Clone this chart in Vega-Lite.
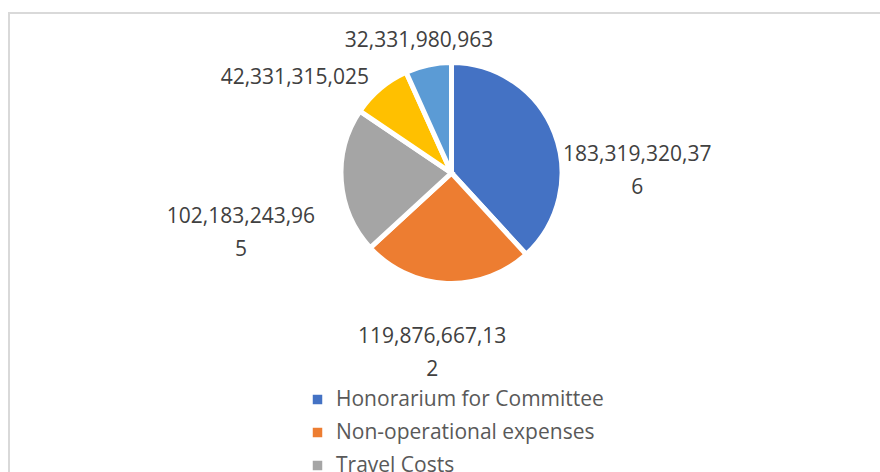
{
  "$schema": "https://vega.github.io/schema/vega-lite/v6.json",
  "width": 885,
  "height": 480,
  "autosize": {"type": "none"},
  "padding": {"left": 9, "top": 13, "right": -14, "bottom": -21},
  "background": "white",
  "view": {"stroke": "#D9D9D9", "strokeWidth": 2},
  "config": {"view": {"stroke": "#D9D9D9", "strokeWidth": 2}, "font": "Open Sans"},
  "data": {
    "values": [
      {"idx": 1, "category": "Honorarium for Committee", "value": 183319320376, "label": "183,319,320,37\n6"},
      {"idx": 2, "category": "Non-operational expenses", "value": 119876667132, "label": "119,876,667,13\n2"},
      {"idx": 3, "category": "Travel Costs", "value": 102183243965, "label": "102,183,243,96\n5"},
      {"idx": 4, "category": "Operational Costs", "value": 42331315025, "label": "42,331,315,025"},
      {"idx": 5, "category": "Other Expenses", "value": 32331980963, "label": "32,331,980,963"}
    ]
  },
  "encoding": {
    "theta": {"field": "value", "type": "quantitative", "stack": true},
    "order": {"field": "idx", "type": "quantitative"}
  },
  "layer": [
    {
      "mark": {"type": "arc", "outerRadius": 110.5, "stroke": "white", "strokeWidth": 5, "y": {"expr": "height/3"}},
      "encoding": {
        "color": {
          "field": "category",
          "type": "nominal",
          "scale": {
            "domain": ["Honorarium for Committee", "Non-operational expenses", "Travel Costs", "Operational Costs", "Other Expenses"],
            "range": ["#4472C4", "#ED7D31", "#A5A5A5", "#FFC000", "#5B9BD5"]
          },
          "legend": {
            "orient": "none",
            "legendX": 298,
            "legendY": 376,
            "title": null,
            "padding": 0,
            "symbolType": "square",
            "symbolSize": 90,
            "symbolStrokeWidth": 0,
            "labelFont": "Open Sans",
            "labelFontSize": 21,
            "labelColor": "#595959",
            "labelOffset": 8,
            "rowPadding": 11,
            "labelLimit": 500
          }
        }
      }
    },
    {
      "mark": {"type": "text", "radius": 150, "dx": 46, "dy": 42, "y": {"expr": "height/3"}, "fontSize": 21, "fill": "#404040", "align": "center", "baseline": "alphabetic", "lineBreak": "\n", "lineHeight": 33},
      "encoding": {"detail": {"field": "category", "type": "nominal"}, "text": {"condition": {"test": "datum.idx === 1", "field": "label", "type": "nominal"}, "value": ""}}
    },
    {
      "mark": {"type": "text", "radius": 150, "dx": -13, "dy": 20, "y": {"expr": "height/3"}, "fontSize": 21, "fill": "#404040", "align": "center", "baseline": "alphabetic", "lineBreak": "\n", "lineHeight": 33},
      "encoding": {"detail": {"field": "category", "type": "nominal"}, "text": {"condition": {"test": "datum.idx === 2", "field": "label", "type": "nominal"}, "value": ""}}
    },
    {
      "mark": {"type": "text", "radius": 150, "dx": -61, "dy": 39, "y": {"expr": "height/3"}, "fontSize": 21, "fill": "#404040", "align": "center", "baseline": "alphabetic", "lineBreak": "\n", "lineHeight": 33},
      "encoding": {"detail": {"field": "category", "type": "nominal"}, "text": {"condition": {"test": "datum.idx === 3", "field": "label", "type": "nominal"}, "value": ""}}
    },
    {
      "mark": {"type": "text", "radius": 150, "dx": -60, "dy": 26, "y": {"expr": "height/3"}, "fontSize": 21, "fill": "#404040", "align": "center", "baseline": "alphabetic", "lineBreak": "\n", "lineHeight": 33},
      "encoding": {"detail": {"field": "category", "type": "nominal"}, "text": {"condition": {"test": "datum.idx === 4", "field": "label", "type": "nominal"}, "value": ""}}
    },
    {
      "mark": {"type": "text", "radius": 150, "dx": -1, "dy": 21, "y": {"expr": "height/3"}, "fontSize": 21, "fill": "#404040", "align": "center", "baseline": "alphabetic", "lineBreak": "\n", "lineHeight": 33},
      "encoding": {"detail": {"field": "category", "type": "nominal"}, "text": {"condition": {"test": "datum.idx === 5", "field": "label", "type": "nominal"}, "value": ""}}
    }
  ]
}
